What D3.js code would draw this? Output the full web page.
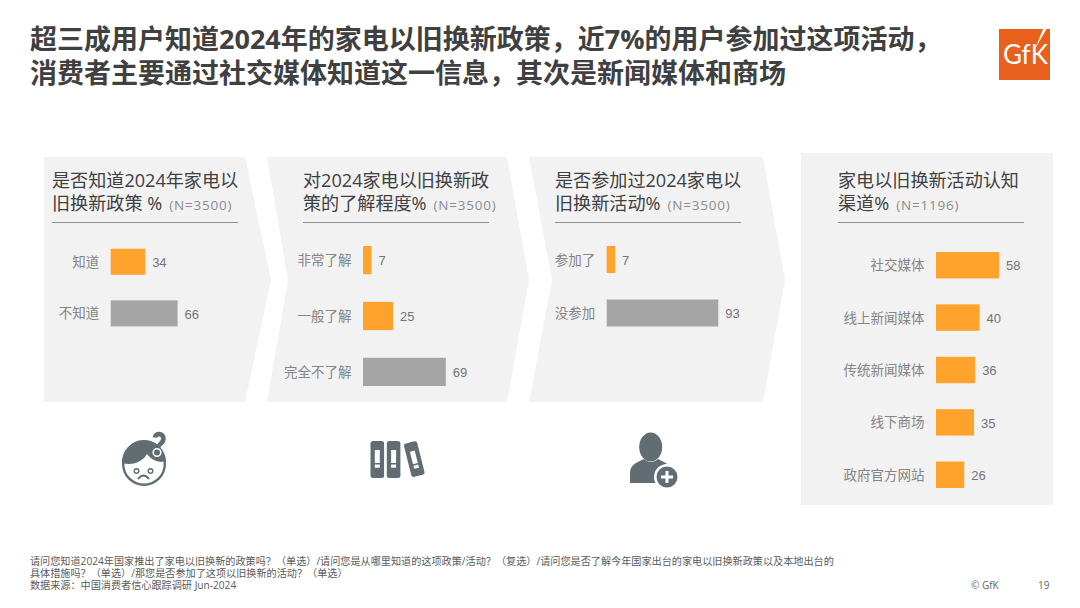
<!DOCTYPE html>
<html>
<head>
<meta charset="utf-8">
<script src="https://cdn.jsdelivr.net/npm/d3@7"></script>
<style>
  html, body { margin: 0; padding: 0; background: #fff; }
  svg { display: block; }
  text { font-family: "Open Sans", "Noto Sans CJK SC", sans-serif; }
</style>
</head>
<body>
<div id="chart"></div>
<script>
// chart values
var awareCats = ["知道", "不知道"];
var awareVals = [34, 66];
var knowCats = ["非常了解", "一般了解", "完全不了解"];
var knowVals = [7, 25, 69];
var joinCats = ["参加了", "没参加"];
var joinVals = [7, 93];
var channelCats = ["社交媒体", "线上新闻媒体", "传统新闻媒体", "线下商场", "政府官方网站"];
var channelVals = [58, 40, 36, 35, 26];
var mutedCats = ["不知道", "完全不了解", "没参加"];

var titleLines = [
  "超三成用户知道2024年的家电以旧换新政策，近7%的用户参加过这项活动，",
  "消费者主要通过社交媒体知道这一信息，其次是新闻媒体和商场"
];
var noteLines = [
  "请问您知道2024年国家推出了家电以旧换新的政策吗？（单选）/请问您是从哪里知道的这项政策/活动？（复选）/请问您是否了解今年国家出台的家电以旧换新政策以及本地出台的",
  "具体措施吗？（单选）/那您是否参加了这项以旧换新的活动？（单选）",
  "数据来源：中国消费者信心跟踪调研 Jun-2024"
];

var svg = d3.select("#chart").append("svg")
  .attr("width", 1080)
  .attr("height", 608);

var panelFill = "#f2f2f2", orange = "#ffa32d", grey = "#a5a5a5";

// chevron backgrounds
var panelShapes = [
  [[44,157],[245,157],[271,280],[245,402],[44,402]],
  [[267,157],[507,157],[529,280],[507,402],[267,402],[288,280]],
  [[529,157],[763,157],[785,280],[763,402],[529,402],[552,280]],
  [[801,153],[1053,153],[1053,505],[801,505]]
];
svg.selectAll("polygon.panel")
  .data(panelShapes)
  .enter()
  .append("polygon")
    .attr("class", "panel")
    .attr("points", d => d.join(" "))
    .attr("fill", panelFill);

// title
svg.selectAll("text.title")
  .data(titleLines)
  .enter()
  .append("text")
    .attr("class", "title")
    .attr("x", 30)
    .attr("y", (d, i) => 49 + i * 33.5)
    .attr("font-size", 27)
    .attr("font-weight", 700)
    .attr("fill", "#404040")
    .text(d => d);

// each panel: heading, rule, bars through its own scales and axis
function drawPanel(cfg) {
  var g = svg.append("g");

  g.append("text")
    .attr("x", cfg.headX)
    .attr("y", 187)
    .attr("font-size", 18.1)
    .attr("fill", "#404040")
    .text(cfg.head1);

  var second = g.append("text")
    .attr("x", cfg.headX)
    .attr("y", 209.5)
    .attr("font-size", 18.1)
    .attr("fill", "#404040");
  second.append("tspan").text(cfg.head2);
  second.append("tspan")
    .attr("dx", 7)
    .attr("font-size", 13.5)
    .attr("letter-spacing", 0.8)
    .attr("fill", "#8c8c8c")
    .text(cfg.n);

  g.append("line")
    .attr("x1", cfg.headX)
    .attr("x2", cfg.headX + 186)
    .attr("y1", 222.5)
    .attr("y2", 222.5)
    .attr("stroke", "#909090")
    .attr("stroke-width", 1);

  var x = d3.scaleLinear().domain([0, 100]).range([cfg.x0, cfg.x1]);
  var y = d3.scaleBand()
    .domain(cfg.cats)
    .range(cfg.yRange)
    .paddingInner(0.495)
    .paddingOuter(0);

  var rows = cfg.cats.map((c, i) => ({cat: c, val: cfg.vals[i]}));

  g.selectAll("rect")
    .data(rows)
    .enter()
    .append("rect")
      .attr("x", x(0))
      .attr("y", d => y(d.cat))
      .attr("width", d => x(d.val) - x(0))
      .attr("height", y.bandwidth())
      .attr("fill", d => mutedCats.indexOf(d.cat) >= 0 ? grey : orange);

  g.selectAll("text.val")
    .data(rows)
    .enter()
    .append("text")
      .attr("class", "val")
      .attr("x", d => x(d.val) + 7)
      .attr("y", d => y(d.cat) + y.bandwidth() / 2 + 0.7)
      .attr("dy", "0.35em")
      .attr("font-size", 13)
      .attr("fill", "#757575")
      .style("font-family", "'Liberation Sans', sans-serif")
      .text(d => d.val);

  var axis = g.append("g")
    .attr("transform", "translate(" + x(0) + ",0.7)")
    .call(d3.axisLeft(y).tickSize(0).tickPadding(11.5));
  axis.select(".domain").remove();
  axis.selectAll("text")
    .attr("font-size", 13.5)
    .attr("fill", "#858585")
    .style("font-family", "'Noto Sans CJK SC', sans-serif");
}

drawPanel({cats: awareCats, vals: awareVals, head1: "是否知道2024年家电以", head2: "旧换新政策 %", n: "(N=3500)",
  headX: 52, x0: 110.7, x1: 212, yRange: [248.7, 326.4]});
drawPanel({cats: knowCats, vals: knowVals, head1: "对2024家电以旧换新政", head2: "策的了解程度%", n: "(N=3500)",
  headX: 303, x0: 363, x1: 483, yRange: [246, 386]});
drawPanel({cats: joinCats, vals: joinVals, head1: "是否参加过2024家电以", head2: "旧换新活动%", n: "(N=3500)",
  headX: 555, x0: 606.7, x1: 726.7, yRange: [246, 326.5]});
drawPanel({cats: channelCats, vals: channelVals, head1: "家电以旧换新活动认知", head2: "渠道%", n: "(N=1196)",
  headX: 838, x0: 936, x1: 1044.7, yRange: [252, 488]});

// gfk logo
var logo = svg.append("g");
logo.append("rect")
  .attr("x", 999).attr("y", 29).attr("width", 51).attr("height", 51)
  .attr("fill", "#e8601c");
logo.append("path")
  .attr("d", "M1043 29 L1046.500 29 L1035 49 Z")
  .attr("fill", "#fff");
logo.append("text")
  .attr("x", 1003)
  .attr("y", 64)
  .attr("font-size", 26)
  .attr("font-weight", 400)
  .attr("fill", "#fff")
  .style("font-family", "'Lato', sans-serif")
  .text("GfK");

// icons
var iconCol = "#616c73";

// confused face
var face = svg.append("g").attr("transform", "translate(144,464)");
face.append("circle").attr("r", 20.8).attr("fill", "#fff").attr("stroke", iconCol).attr("stroke-width", 2.4);
face.append("path")
  .attr("d", "M-22 -1 A22 22 0 0 1 22 -3 L17 -2 C10 -3 6 -6 3 -10 C-1 -3 -10 2 -22 -1 Z")
  .attr("fill", iconCol);
face.append("circle").attr("cx", -7.5).attr("cy", 7).attr("r", 2.3).attr("fill", "none").attr("stroke", iconCol).attr("stroke-width", 1.4);
face.append("circle").attr("cx", 6.5).attr("cy", 7).attr("r", 2.3).attr("fill", "none").attr("stroke", iconCol).attr("stroke-width", 1.4);
face.append("path")
  .attr("d", "M-6 15 Q-0.5 8 5 15")
  .attr("fill", "none").attr("stroke", iconCol).attr("stroke-width", 2);
// question mark with a white halo cut into the hair
svg.append("path")
  .attr("d", "M155 437.500 C155.500 432.500 164 433 163.500 439 C163 444 158 443.500 158 448")
  .attr("fill", "none").attr("stroke", iconCol).attr("stroke-width", 4.6);
svg.append("circle").attr("cx", 157).attr("cy", 452.500).attr("r", 3.8).attr("fill", iconCol).attr("stroke", "#fff").attr("stroke-width", 1.6);

// binders
var bookSpots = [
  {x: 370.5, y: 441, rot: 0, h: 37},
  {x: 386.8, y: 441, rot: 0, h: 37},
  {x: 403.5, y: 444, rot: -14, h: 34.5}
];
bookSpots.forEach(function(b) {
  var gb = svg.append("g").attr("transform", "translate(" + b.x + "," + b.y + ") rotate(" + b.rot + ")");
  gb.append("rect").attr("width", 13.6).attr("height", b.h).attr("rx", 2.5).attr("fill", iconCol);
  gb.append("rect").attr("x", 4.3).attr("y", 9).attr("width", 5).attr("height", 13).attr("fill", "#fff");
  gb.append("rect").attr("x", 4.3).attr("y", 23.5).attr("width", 5).attr("height", 3.2).attr("fill", "#fff");
});

// person with plus
var person = svg.append("g");
person.append("ellipse").attr("cx", 650.7).attr("cy", 447).attr("rx", 11.5).attr("ry", 14.5).attr("fill", iconCol);
person.append("path")
  .attr("d", "M630 483 L630 473 C630 464 638 462 644 459 C648 463 654 463 658 459 C664 462 670 464 672 470 L672 483 Z")
  .attr("fill", iconCol);
person.append("circle").attr("cx", 667).attr("cy", 477).attr("r", 13).attr("fill", "#fff");
person.append("circle").attr("cx", 667).attr("cy", 477).attr("r", 10.5).attr("fill", iconCol);
person.append("rect").attr("x", 665.5).attr("y", 471).attr("width", 3).attr("height", 12).attr("fill", "#fff");
person.append("rect").attr("x", 661).attr("y", 475.5).attr("width", 12).attr("height", 3).attr("fill", "#fff");

// footnote
svg.selectAll("text.note")
  .data(noteLines)
  .enter()
  .append("text")
    .attr("class", "note")
    .attr("x", 30)
    .attr("y", (d, i) => 565 + i * 12)
    .attr("font-size", 10.15)
    .attr("fill", "#5a5a5a")
    .text(d => d);

svg.append("text")
  .attr("x", 971).attr("y", 589)
  .attr("font-size", 10).attr("fill", "#666")
  .text("© GfK");
svg.append("text")
  .attr("x", 1038).attr("y", 589)
  .attr("font-size", 10).attr("fill", "#666")
  .text("19");
</script>
</body>
</html>
